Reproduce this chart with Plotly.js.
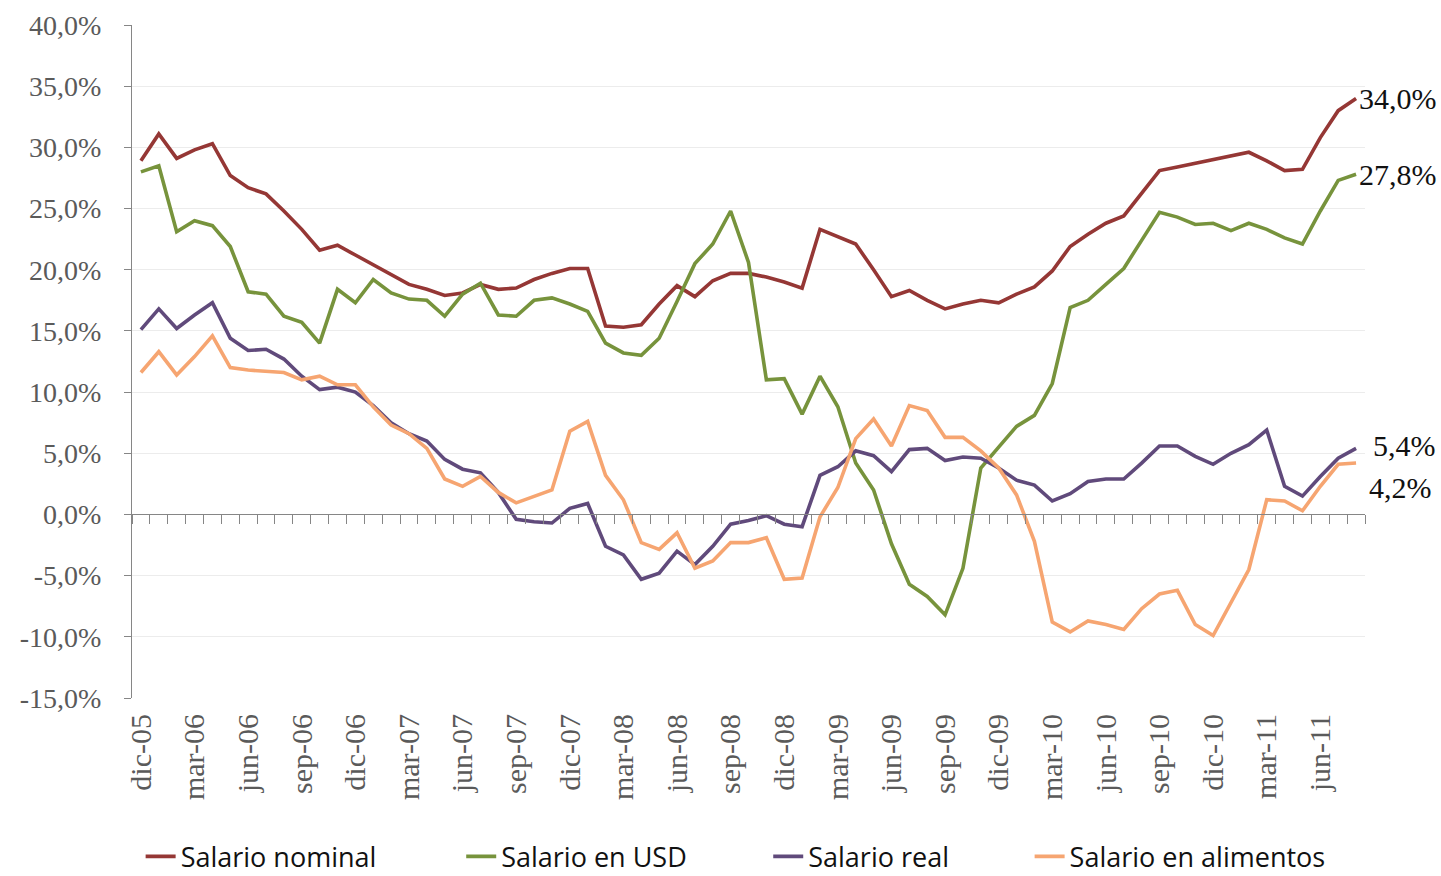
<!DOCTYPE html>
<html>
<head>
<meta charset="utf-8">
<script src="https://cdn.plot.ly/plotly-3.0.1.min.js"></script>
<style>
	body { margin: 0; background: #fff; }
	#chart { width: 1441px; height: 876px; }
</style>
</head>
<body>
<div id="chart"></div>
<script>
var months = [
	'dic-05',
	'ene-06', 'feb-06', 'mar-06', 'abr-06', 'may-06', 'jun-06', 'jul-06', 'ago-06', 'sep-06', 'oct-06', 'nov-06', 'dic-06',
	'ene-07', 'feb-07', 'mar-07', 'abr-07', 'may-07', 'jun-07', 'jul-07', 'ago-07', 'sep-07', 'oct-07', 'nov-07', 'dic-07',
	'ene-08', 'feb-08', 'mar-08', 'abr-08', 'may-08', 'jun-08', 'jul-08', 'ago-08', 'sep-08', 'oct-08', 'nov-08', 'dic-08',
	'ene-09', 'feb-09', 'mar-09', 'abr-09', 'may-09', 'jun-09', 'jul-09', 'ago-09', 'sep-09', 'oct-09', 'nov-09', 'dic-09',
	'ene-10', 'feb-10', 'mar-10', 'abr-10', 'may-10', 'jun-10', 'jul-10', 'ago-10', 'sep-10', 'oct-10', 'nov-10', 'dic-10',
	'ene-11', 'feb-11', 'mar-11', 'abr-11', 'may-11', 'jun-11', 'jul-11', 'ago-11'
];

var salarioNominal = [
	28.9, 31.1, 29.1, 29.8, 30.3, 27.7, 26.7, 26.2, 24.8, 23.3,
	21.6, 22.0, 21.2, 20.4, 19.6, 18.8, 18.4, 17.9, 18.1, 18.8,
	18.4, 18.5, 19.2, 19.7, 20.1, 20.1, 15.4, 15.3, 15.5, 17.2,
	18.7, 17.8, 19.1, 19.7, 19.7, 19.4, 19.0, 18.5, 23.3, 22.7,
	22.1, 20.0, 17.8, 18.3, 17.5, 16.8, 17.2, 17.5, 17.3, 18.0,
	18.6, 19.9, 21.9, 22.9, 23.8, 24.4, 26.3, 28.1, 28.4, 28.7,
	29.0, 29.3, 29.6, 28.9, 28.1, 28.2, 30.8, 33.0, 34.0
];
var salarioUSD = [
	28.0, 28.5, 23.1, 24.0, 23.6, 21.9, 18.2, 18.0, 16.2, 15.7,
	14.0, 18.4, 17.3, 19.2, 18.1, 17.6, 17.5, 16.2, 18.0, 18.9,
	16.3, 16.2, 17.5, 17.7, 17.2, 16.6, 14.0, 13.2, 13.0, 14.4,
	17.4, 20.5, 22.1, 24.8, 20.6, 11.0, 11.1, 8.2, 11.3, 8.8,
	4.2, 2.0, -2.4, -5.7, -6.7, -8.2, -4.4, 3.8, 5.5, 7.2,
	8.1, 10.7, 16.9, 17.5, 18.8, 20.1, 22.4, 24.7, 24.3, 23.7,
	23.8, 23.2, 23.8, 23.3, 22.6, 22.1, 24.8, 27.3, 27.8
];
var salarioReal = [
	15.1, 16.8, 15.2, 16.3, 17.3, 14.4, 13.4, 13.5, 12.7, 11.3,
	10.2, 10.4, 10.0, 8.9, 7.5, 6.6, 6.0, 4.5, 3.7, 3.4,
	1.8, -0.4, -0.6, -0.7, 0.5, 0.9, -2.6, -3.3, -5.3, -4.8,
	-3.0, -4.1, -2.6, -0.8, -0.5, -0.1, -0.8, -1.0, 3.2, 3.9,
	5.2, 4.8, 3.5, 5.3, 5.4, 4.4, 4.7, 4.6, 3.8, 2.8,
	2.4, 1.1, 1.7, 2.7, 2.9, 2.9, 4.2, 5.6, 5.6, 4.75,
	4.1, 5.0, 5.7, 6.9, 2.3, 1.5, 3.1, 4.6, 5.4
];
var salarioAlimentos = [
	11.6, 13.3, 11.4, 12.9, 14.6, 12.0, 11.8, 11.7, 11.6, 11.0,
	11.3, 10.6, 10.6, 8.8, 7.3, 6.6, 5.4, 2.9, 2.3, 3.1,
	1.8, 0.95, 1.5, 2.0, 6.8, 7.6, 3.2, 1.2, -2.3, -2.85,
	-1.5, -4.4, -3.8, -2.3, -2.3, -1.9, -5.3, -5.2, -0.2, 2.2,
	6.2, 7.8, 5.6, 8.9, 8.5, 6.3, 6.3, 5.2, 3.8, 1.6,
	-2.2, -8.8, -9.6, -8.7, -9.0, -9.4, -7.7, -6.5, -6.2, -9.0,
	-9.9, -7.2, -4.5, 1.2, 1.1, 0.3, 2.3, 4.1, 4.2
];

var yTicks = [-15, -10, -5, 0, 5, 10, 15, 20, 25, 30, 35, 40];

var seriesNames = ['Salario nominal', 'Salario en USD', 'Salario real', 'Salario en alimentos'];
var seriesColors = ['#953735', '#77933C', '#604A7B', '#F6A571'];

function main(){
	var serif = 'Liberation Serif, Times New Roman, serif';
	var grey = '#868686';

	var trace1 = makeTrace(salarioNominal, seriesNames[0], seriesColors[0], 'legend');
	var trace2 = makeTrace(salarioUSD, seriesNames[1], seriesColors[1], 'legend2');
	var trace3 = makeTrace(salarioReal, seriesNames[2], seriesColors[2], 'legend3');
	var trace4 = makeTrace(salarioAlimentos, seriesNames[3], seriesColors[3], 'legend4');
	// empty trace so the zero-line axis with the month ticks gets drawn
	var axisTrace = {x: [], y: [], xaxis: 'x2', yaxis: 'y', type: 'scatter', showlegend: false, hoverinfo: 'skip'};

	var data = [axisTrace, trace1, trace2, trace3, trace4];

	var last = months.length - 1;
	var annotations = [
		endLabel(salarioNominal, 0, 0),
		endLabel(salarioUSD, 0, 0),
		endLabel(salarioReal, 14, 3),
		endLabel(salarioAlimentos, 10, -24)
	];

	// excel style labels: decimal comma and plain hyphen for negatives
	var yTickText = yTicks.map(function(v){
		return v.toFixed(1).replace('.', ',') + '%';
	});

	var legendY = -0.236;
	var layout = {
		width: 1441,
		height: 876,
		margin: {l: 132, r: 76, t: 25, b: 178, autoexpand: false},
		paper_bgcolor: '#fff',
		plot_bgcolor: '#fff',
		showlegend: true,
		xaxis: {
			type: 'category',
			range: [-0.5, last + 0.5],
			tickmode: 'linear',
			tick0: 0,
			dtick: 3,
			tickangle: -90,
			ticks: '',
			showline: false,
			showgrid: false,
			zeroline: false,
			automargin: false,
			ticklabelstandoff: 9,
			tickfont: {family: serif, size: 30, color: '#5a5a5a'}
		},
		xaxis2: {
			overlaying: 'x',
			anchor: 'free',
			position: 15 / 55,
			range: [-0.5, last + 0.5],
			tickmode: 'linear',
			tick0: -0.5,
			dtick: 1,
			ticks: 'outside',
			ticklen: 9,
			tickcolor: grey,
			showline: true,
			linecolor: grey,
			linewidth: 1,
			showticklabels: false,
			showgrid: false,
			zeroline: false,
			automargin: false
		},
		yaxis: {
			range: [-15, 40],
			tickmode: 'array',
			tickvals: yTicks,
			ticktext: yTickText,
			ticks: 'outside',
			ticklen: 7,
			tickcolor: grey,
			showline: true,
			linecolor: grey,
			linewidth: 1,
			showgrid: true,
			gridcolor: '#ececec',
			zeroline: false,
			automargin: false,
			ticklabelstandoff: 17,
			tickfont: {family: serif, size: 28, color: '#5a5a5a'}
		},
		legend: makeLegend(0.007, legendY),
		legend2: makeLegend(0.267, legendY),
		legend3: makeLegend(0.516, legendY),
		legend4: makeLegend(0.728, legendY),
		annotations: annotations
	};

	Plotly.newPlot('chart', data, layout, {displayModeBar: false, staticPlot: true});
}

function makeTrace(values, name, color, legendName){
	return {
		x: months,
		y: values,
		type: 'scatter',
		mode: 'lines',
		name: name,
		legend: legendName,
		line: {
			color: color,
			width: 3.6
		}
	};
}

function makeLegend(x, y){
	return {
		orientation: 'h',
		x: x,
		xanchor: 'left',
		y: y,
		yanchor: 'middle',
		borderwidth: 0,
		bgcolor: 'rgba(0,0,0,0)',
		font: {family: 'Open Sans, sans-serif', size: 27, color: '#111'}
	};
}

function endLabel(values, xshift, yshift){
	var v = values[values.length - 1];
	return {
		x: months[months.length - 1],
		y: v,
		xref: 'x',
		yref: 'y',
		text: v.toFixed(1).replace('.', ',') + '%',
		showarrow: false,
		xanchor: 'left',
		yanchor: 'middle',
		xshift: xshift + 1,
		yshift: yshift,
		font: {family: 'Liberation Serif, Times New Roman, serif', size: 30, color: '#111'}
	};
}

main();
</script>
</body>
</html>
